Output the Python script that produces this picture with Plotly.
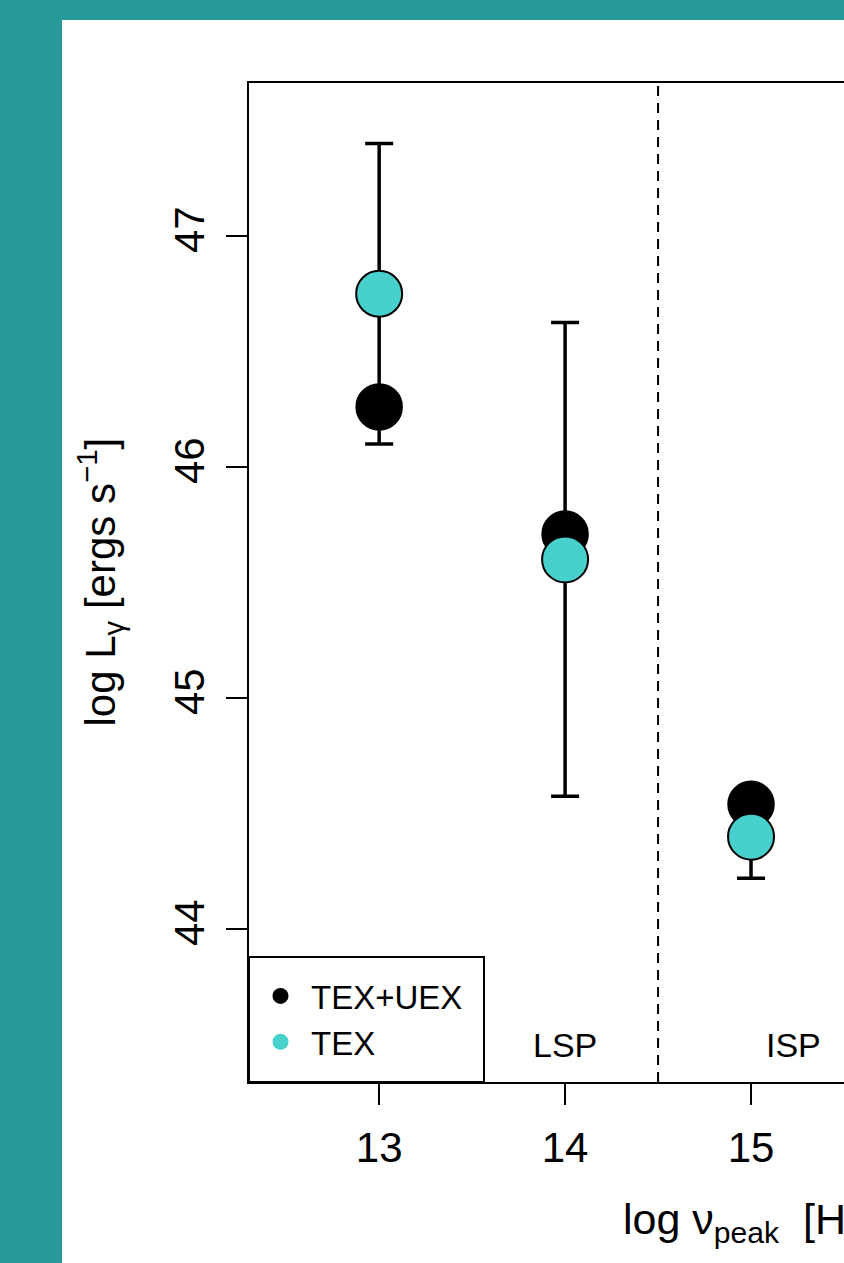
import plotly.graph_objects as go

# ---- data ----
log_nu = [13, 14, 15]
tex_uex = [46.26, 45.71, 44.54]
tex = [46.75, 45.60, 44.40]
tex_sd = [0.65, 1.025, 0.18]
series_names = ["TEX+UEX", "TEX"]
class_labels = ["LSP", "ISP"]
class_label_x = [14.0, 15.23]
class_label_y = 43.50
class_boundary = [14.5]
x_ticks = [13, 14, 15, 16]
y_ticks = [44, 45, 46, 47]
x_range = [12.30, 15.50]
y_range = [43.338, 47.662]

TEAL_BG = "#26999A"
TURQ = "#48D1CC"
FONT = "Liberation Sans, Arial, Helvetica, sans-serif"

W, H = 844, 1263
ML, MR, MT, MB = 249, 0, 83, 181
PW = W - ML - MR
PH = H - MT - MB


def px_x(p):
    return (p - ML) / PW


def px_y(p):
    return (H - MB - p) / PH


fig = go.Figure()

# error bars (TEX mean +/- sd), drawn behind the points
fig.add_trace(go.Scatter(
    x=log_nu, y=tex, mode="markers",
    marker=dict(size=2, color="rgba(0,0,0,0)"),
    error_y=dict(type="data", array=tex_sd, color="black", thickness=3.5, width=14),
    showlegend=False, hoverinfo="skip"))

fig.add_trace(go.Scatter(
    x=log_nu, y=tex_uex, mode="markers", name=series_names[0],
    marker=dict(size=46, color="black", line=dict(color="black", width=1.5)),
    showlegend=False))

fig.add_trace(go.Scatter(
    x=log_nu, y=tex, mode="markers", name=series_names[1],
    marker=dict(size=46, color=TURQ, line=dict(color="black", width=2)),
    showlegend=False))

# legend keys (small dots as in the reference legend)
fig.add_trace(go.Scatter(
    x=[None], y=[None], mode="markers", name=series_names[0],
    marker=dict(size=16, color="black")))
fig.add_trace(go.Scatter(
    x=[None], y=[None], mode="markers", name=series_names[1],
    marker=dict(size=16, color=TURQ)))

shapes = [
    dict(type="rect", xref="paper", yref="paper",
         x0=px_x(62), x1=1.2, y0=-0.5, y1=px_y(20),
         fillcolor="white", line=dict(width=0), layer="below"),
    # legend frame
    dict(type="rect", xref="paper", yref="paper",
         x0=0, x1=px_x(484), y0=0, y1=px_y(957),
         fillcolor="rgba(0,0,0,0)", line=dict(color="black", width=2)),
]
for b in class_boundary:
    shapes.append(dict(type="line", xref="x", yref="paper", x0=b, x1=b, y0=0, y1=1,
                       line=dict(color="black", width=2, dash="10px,7px")))

annotations = []
for lab, lx in zip(class_labels, class_label_x):
    annotations.append(dict(x=lx, y=class_label_y, xref="x", yref="y", text=lab,
                            showarrow=False, xanchor="center", yanchor="middle",
                            font=dict(size=34, color="black", family=FONT)))

annotations.append(dict(
    xref="paper", yref="paper", x=px_x(100), y=0.5,
    text="log L<sub>γ</sub> [ergs s<sup>−1</sup>]", textangle=-90,
    showarrow=False, xanchor="center", yanchor="middle",
    font=dict(size=42, color="black", family=FONT)))

annotations.append(dict(
    xref="paper", yref="paper", x=px_x(621), y=px_y(1222),
    text="log ν<sub>peak</sub>  [Hz]",
    showarrow=False, xanchor="left", yanchor="middle",
    font=dict(size=43, color="black", family=FONT)))

fig.update_layout(
    width=W, height=H,
    margin=dict(l=ML, r=MR, t=MT, b=MB, pad=0),
    paper_bgcolor=TEAL_BG, plot_bgcolor="white",
    font=dict(family=FONT, color="black"),
    shapes=shapes, annotations=annotations,
    legend=dict(x=px_x(250), y=px_y(968), xanchor="left", yanchor="top",
                bgcolor="rgba(0,0,0,0)", borderwidth=0,
                font=dict(size=33, family=FONT, color="black"),
                itemwidth=51, tracegroupgap=0),
    xaxis=dict(range=x_range, tickvals=x_ticks, ticktext=[str(v) for v in x_ticks],
               showgrid=False, zeroline=False, showline=True, linecolor="black",
               linewidth=2, mirror=True, ticks="outside", ticklen=21, tickwidth=2,
               tickcolor="black", ticklabelstandoff=7,
               tickfont=dict(size=42, family=FONT, color="black")),
    yaxis=dict(range=y_range, tickvals=y_ticks, ticktext=[str(v) for v in y_ticks],
               showgrid=False, zeroline=False, showline=True, linecolor="black",
               linewidth=2, mirror=False, ticks="outside", ticklen=21, tickwidth=2,
               tickcolor="black", tickangle=-90, ticklabelstandoff=5,
               tickfont=dict(size=42, family=FONT, color="black")),
)

fig.write_html("out.html")
